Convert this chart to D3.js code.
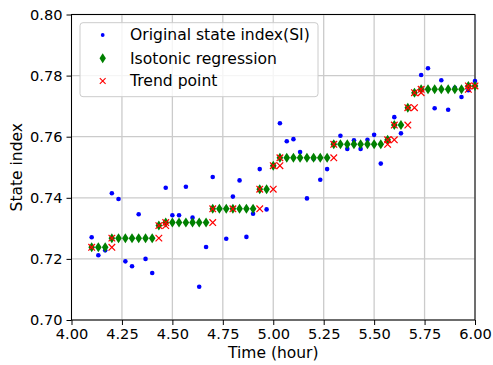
<!DOCTYPE html>
<html><head><meta charset="utf-8">
<script src="https://cdn.jsdelivr.net/npm/d3@7"></script>
<style>
html,body{margin:0;padding:0;background:#fff;}
svg{display:block;font-family:"DejaVu Sans",sans-serif;}
</style></head>
<body><svg id="c" width="493" height="365"></svg>
<script>
const times = [4.100,4.133,4.167,4.200,4.233,4.267,4.300,4.333,4.367,4.400,
  4.433,4.467,4.500,4.533,4.567,4.600,4.633,4.667,4.700,4.733,
  4.767,4.800,4.833,4.867,4.900,4.933,4.967,5.000,5.033,5.067,
  5.100,5.133,5.167,5.200,5.233,5.267,5.300,5.333,5.367,5.400,
  5.433,5.467,5.500,5.533,5.567,5.600,5.633,5.667,5.700,5.733,
  5.767,5.800,5.833,5.867,5.900,5.933,5.967,6.000];
const stateIndex = [0.7271,0.7212,0.7228,0.7415,0.7396,0.7192,0.7176,0.7346,0.7200,0.7154,
  0.7309,0.7433,0.7343,0.7343,0.7436,0.7335,0.7109,0.7239,0.7468,0.7364,
  0.7266,0.7404,0.7457,0.7272,0.7348,0.7494,0.7362,0.7505,0.7644,0.7585,
  0.7592,0.7550,0.7398,0.7528,0.7459,0.7494,0.7578,0.7603,0.7560,0.7588,
  0.7560,0.7590,0.7606,0.7512,0.7590,0.7664,0.7611,0.7695,0.7744,0.7802,
  0.7824,0.7693,0.7785,0.7688,0.7760,0.7730,0.7752,0.7782];
const isotonic = [0.7238,0.7238,0.7238,0.7268,0.7268,0.7268,0.7268,0.7268,0.7268,0.7268,
  0.7309,0.7319,0.7319,0.7319,0.7319,0.7319,0.7319,0.7319,0.7364,0.7364,
  0.7364,0.7364,0.7364,0.7364,0.7364,0.7428,0.7428,0.7505,0.7531,0.7531,
  0.7531,0.7531,0.7531,0.7531,0.7531,0.7531,0.7575,0.7575,0.7575,0.7575,
  0.7575,0.7575,0.7575,0.7575,0.7590,0.7638,0.7638,0.7695,0.7744,0.7755,
  0.7755,0.7755,0.7755,0.7755,0.7755,0.7755,0.7766,0.7766];
const trendT = [4.100,4.200,4.200,4.433,4.433,4.467,4.467,4.700,4.700,4.800,
  4.933,4.933,5.000,5.000,5.033,5.033,5.300,5.300,5.567,5.567,
  5.600,5.600,5.667,5.667,5.700,5.700,5.733,5.733,5.967,5.967,6.000];
const trendV = [0.7238,0.7238,0.7268,0.7268,0.7309,0.7309,0.7319,0.7319,0.7364,0.7364,
  0.7364,0.7428,0.7428,0.7505,0.7505,0.7531,0.7531,0.7575,0.7575,0.7590,
  0.7590,0.7638,0.7638,0.7695,0.7695,0.7744,0.7744,0.7755,0.7755,0.7766,0.7766];
const xTicks = [4.00,4.25,4.50,4.75,5.00,5.25,5.50,5.75,6.00];
const yTicks = [0.70,0.72,0.74,0.76,0.78,0.80];
const legendLabels = ["Original state index(SI)","Isotonic regression","Trend point"];

const svg = d3.select("#c");
const L=71.5, R=475, T=14.5, B=320;
const x = d3.scaleLinear().domain([4,6]).range([L,R]);
const y = d3.scaleLinear().domain([0.70,0.80]).range([B,T]);

// grid
const g = svg.append("g");
g.selectAll(".gx").data(xTicks).enter().append("line")
  .attr("x1",d=>x(d)).attr("x2",d=>x(d)).attr("y1",T).attr("y2",B)
  .attr("stroke","#cbcbcb").attr("stroke-width",1.3);
g.selectAll(".gy").data(yTicks).enter().append("line")
  .attr("y1",d=>y(d)).attr("y2",d=>y(d)).attr("x1",L).attr("x2",R)
  .attr("stroke","#cbcbcb").attr("stroke-width",1.3);

// axes
const xAxis = d3.axisBottom(x).tickValues(xTicks).tickFormat(d3.format(".2f")).tickSize(5).tickPadding(4);
const yAxis = d3.axisLeft(y).tickValues(yTicks).tickFormat(d3.format(".2f")).tickSize(5).tickPadding(4);
const ax = svg.append("g").attr("transform",`translate(0,${B})`).call(xAxis);
const ay = svg.append("g").attr("transform",`translate(${L},0)`).call(yAxis);
[ax,ay].forEach(a=>{
  a.select(".domain").remove();
  a.selectAll("text").attr("font-size","14.6px").attr("fill","#000").attr("font-family","DejaVu Sans");
  a.selectAll("line").attr("stroke","#000").attr("stroke-width",1);
});
svg.append("rect").attr("x",L).attr("y",T).attr("width",R-L).attr("height",B-T)
  .attr("fill","none").attr("stroke","#000").attr("stroke-width",1);

// data
const pts = times.map((t,i)=>({t, si:stateIndex[i], iso:isotonic[i]}));
svg.append("g").selectAll("circle").data(pts).enter().append("circle")
  .attr("cx",d=>x(d.t)).attr("cy",d=>y(d.si)).attr("r",2.3).attr("fill","#0000ff");
const diamond = (cx,cy,w,h)=>`M${cx},${cy-h/2}L${cx+w/2},${cy}L${cx},${cy+h/2}L${cx-w/2},${cy}Z`;
svg.append("g").selectAll("path").data(pts).enter().append("path")
  .attr("d",d=>diamond(x(d.t),y(d.iso),6.6,10)).attr("fill","#008000");
const trend = trendT.map((t,i)=>({t,v:trendV[i]}));
const cross = (cx,cy,s)=>`M${cx-s},${cy-s}L${cx+s},${cy+s}M${cx-s},${cy+s}L${cx+s},${cy-s}`;
svg.append("g").selectAll("path").data(trend).enter().append("path")
  .attr("d",d=>cross(x(d.t),y(d.v),3.3)).attr("stroke","#ff0000").attr("stroke-width",1.2).attr("fill","none");

// labels
svg.append("text").attr("x",(L+R)/2).attr("y",358).attr("text-anchor","middle")
  .attr("font-size","15.5px").attr("fill","#000").text("Time (hour)");
svg.append("text").attr("transform",`translate(22,${(T+B)/2}) rotate(-90)`).attr("text-anchor","middle")
  .attr("font-size","15.5px").attr("fill","#000").text("State index");

// legend
const lg = svg.append("g");
lg.append("rect").attr("x",80).attr("y",22.7).attr("width",238).attr("height",74).attr("rx",3)
  .attr("fill","#fff").attr("fill-opacity",0.8).attr("stroke","#cccccc").attr("stroke-width",1);
const rowY = [35,58.3,81];
lg.append("circle").attr("cx",102.7).attr("cy",rowY[0]).attr("r",1.9).attr("fill","#0000ff");
lg.append("path").attr("d",diamond(102.7,rowY[1],6.4,10)).attr("fill","#008000");
lg.append("path").attr("d",cross(102.7,rowY[2],2.9)).attr("stroke","#ff0000").attr("stroke-width",1.1);
lg.selectAll(".lt").data(legendLabels).enter().append("text")
  .attr("x",130).attr("y",(d,i)=>rowY[i]).attr("dy","0.35em")
  .attr("font-size","15.6px").attr("fill","#000").text(d=>d);
</script></body></html>
